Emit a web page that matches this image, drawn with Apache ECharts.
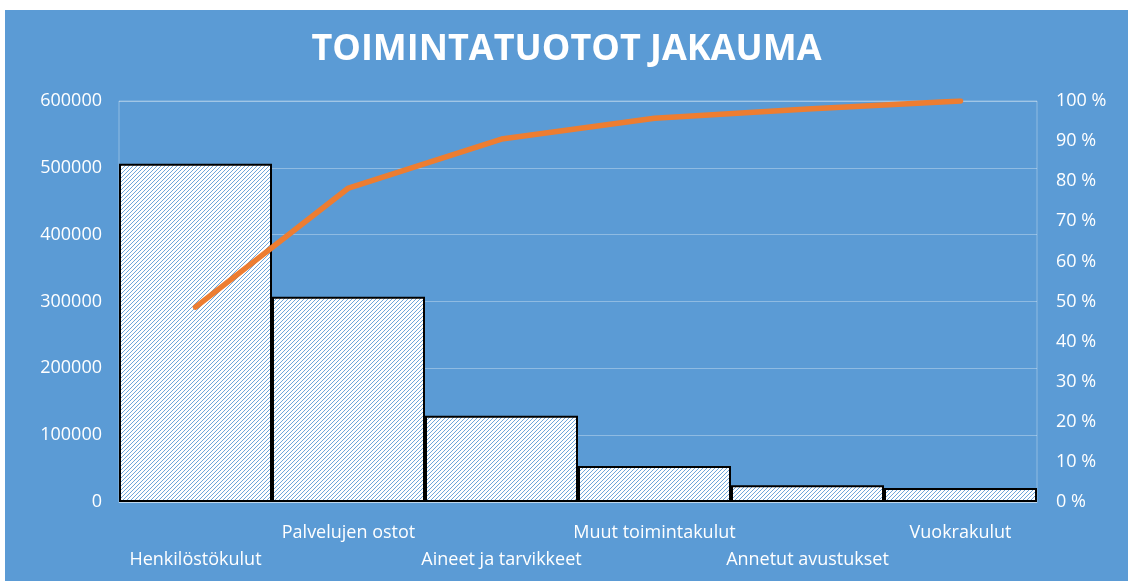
<!DOCTYPE html>
<html>
<head>
<meta charset="utf-8">
<script src="https://cdn.jsdelivr.net/npm/echarts@6/dist/echarts.min.js"></script>
<style>
html,body{margin:0;padding:0;background:#ffffff;width:1128px;height:581px;overflow:hidden;}
#c{position:absolute;left:5px;top:10px;width:1123px;height:571px;}
</style>
</head>
<body>
<div id="c"></div>
<script>
const categories = ['Henkilöstökulut','Palvelujen ostot','Aineet ja tarvikkeet','Muut toimintakulut','Annetut avustukset','Vuokrakulut'];
const barValues = [506000, 307000, 129000, 54000, 25000, 21000];
const cumulativePct = [48.6, 78.3, 90.5, 95.7, 98.0, 100];
const leftTicks = { min: 0, max: 600000, interval: 100000 };
const rightTicks = { min: 0, max: 100, interval: 10 };
const titleText = 'TOIMINTATUOTOT JAKAUMA';

function makePattern() {
  const s = 4;
  const cv = document.createElement('canvas');
  cv.width = s; cv.height = s;
  const ctx = cv.getContext('2d');
  ctx.fillStyle = '#ffffff';
  ctx.fillRect(0, 0, s, s);
  ctx.strokeStyle = '#6FA6DA';
  ctx.lineWidth = 1;
  ctx.beginPath();
  ctx.moveTo(-1, s + 1); ctx.lineTo(s + 1, -1);
  ctx.moveTo(-1, 1); ctx.lineTo(1, -1);
  ctx.moveTo(s - 1, s + 1); ctx.lineTo(s + 1, s - 1);
  ctx.stroke();
  return cv;
}

const chart = echarts.init(document.getElementById('c'));
const font = '"Open Sans", sans-serif';
const faint = 'rgba(255,255,255,0.32)';
chart.setOption({
  backgroundColor: '#5B9BD5',
  animation: false,
  graphic: [{
    type: 'text',
    left: 'center',
    top: 22,
    style: {
      text: titleText,
      fill: '#ffffff',
      font: 'bold 36px "Open Sans", sans-serif'
    }
  }],
  grid: {
    left: 114, top: 91, width: 918, height: 401,
    show: true, borderColor: faint, borderWidth: 1, backgroundColor: 'transparent'
  },
  xAxis: {
    type: 'category',
    data: categories,
    axisLine: { show: true, lineStyle: { color: faint } },
    axisTick: { show: false },
    axisLabel: {
      interval: 0,
      color: '#ffffff',
      fontFamily: font,
      fontSize: 18,
      lineHeight: 27,
      margin: 17,
      formatter: function (v, i) { return i % 2 === 0 ? '\n' + v : v; }
    }
  },
  yAxis: [{
    type: 'value',
    min: leftTicks.min, max: leftTicks.max, interval: leftTicks.interval,
    axisLine: { show: false },
    axisTick: { show: false },
    splitLine: { show: true, lineStyle: { color: faint, width: 1 } },
    axisLabel: { color: '#ffffff', fontFamily: font, fontSize: 18, margin: 17,
      formatter: function (v) { return String(v); } }
  }, {
    type: 'value',
    position: 'right',
    min: rightTicks.min, max: rightTicks.max, interval: rightTicks.interval,
    axisLine: { show: false },
    axisTick: { show: false },
    splitLine: { show: false },
    axisLabel: { color: '#ffffff', fontFamily: font, fontSize: 18, margin: 19,
      formatter: function (v) { return v + ' %'; } }
  }],
  series: [{
    type: 'bar',
    data: barValues,
    barCategoryGap: 0,
    barGap: 0,
    itemStyle: {
      color: { image: makePattern(), repeat: 'repeat' },
      borderColor: '#000000',
      borderWidth: 2
    },
    z: 2
  }, {
    type: 'line',
    yAxisIndex: 1,
    data: cumulativePct,
    showSymbol: false,
    symbol: 'none',
    lineStyle: { color: '#ED7D31', width: 5.5, cap: 'round', join: 'round' },
    z: 3
  }]
});
</script>
</body>
</html>
